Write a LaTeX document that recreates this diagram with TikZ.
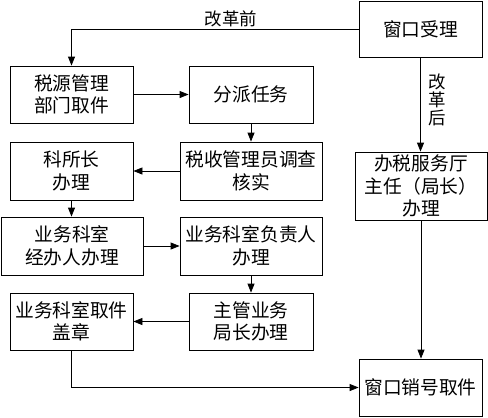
\documentclass[tikz,border=0pt]{standalone}
\usepackage{fontspec}
\newfontfamily\cjk{Noto Sans CJK SC}
\usetikzlibrary{arrows.meta}
\begin{document}
\begin{tikzpicture}[x=1bp,y=-1bp,
  box/.style={draw, line width=0.8bp, inner sep=0pt, align=center,
    font=\cjk\fontsize{18.8}{22.5}\selectfont},
  lbl/.style={inner sep=0pt, align=center, font=\cjk\fontsize{17.5}{18}\selectfont},
  arr/.style={-{Triangle[length=9bp,width=7bp]}, line width=0.8bp}]
\useasboundingbox (0,0) rectangle (488,417);
\node[box, minimum width=123bp, minimum height=56bp] (chuangkou) at (420.5,29) {窗口受理};
\node[box, minimum width=123bp, minimum height=57bp] (shuiyuan) at (71.5,94.5) {税源管理\\部门取件};
\node[box, minimum width=124bp, minimum height=57bp] (fenpai) at (251,94.5) {分派任务};
\node[box, minimum width=123bp, minimum height=58bp] (kesuo) at (71.5,171) {科所长\\办理};
\node[box, minimum width=142bp, minimum height=58bp] (shuishou) at (251,171) {税收管理员调查\\核实};
\node[box, minimum width=132bp, minimum height=68bp] (banshui) at (421,186) {办税服务厅\\主任（局长）\\办理};
\node[box, minimum width=142bp, minimum height=58bp] (jingban) at (72,246) {业务科室\\经办人办理};
\node[box, minimum width=142bp, minimum height=58bp] (fuze) at (251,246) {业务科室负责人\\办理};
\node[box, minimum width=123bp, minimum height=57bp] (qujian) at (71.5,321.5) {业务科室取件\\盖章};
\node[box, minimum width=124bp, minimum height=57bp] (zhuguan) at (251,321.5) {主管业务\\局长办理};
\node[box, minimum width=123bp, minimum height=57bp] (xiaohao) at (420.5,387.5) {窗口销号取件};
\node[lbl] (qian) at (231,19) {改革前};
\node[lbl] (hou) at (437,100) {改\\革\\后};
\draw[arr] (chuangkou.west) -| (shuiyuan.north);
\draw[arr] (shuiyuan) -- (fenpai);
\draw[arr] (fenpai) -- (shuishou);
\draw[arr] (shuishou) -- (kesuo);
\draw[arr] (kesuo.south) -- (kesuo.south |- jingban.north);
\draw[arr] (jingban) -- (fuze);
\draw[arr] (fuze) -- (zhuguan);
\draw[arr] (zhuguan) -- (qujian);
\draw[arr] (qujian.south) |- (xiaohao.west);
\draw[arr] (chuangkou.south) -- (chuangkou.south |- banshui.north);
\draw[arr] (banshui.south) -- (banshui.south |- xiaohao.north);
\end{tikzpicture}
\end{document}
